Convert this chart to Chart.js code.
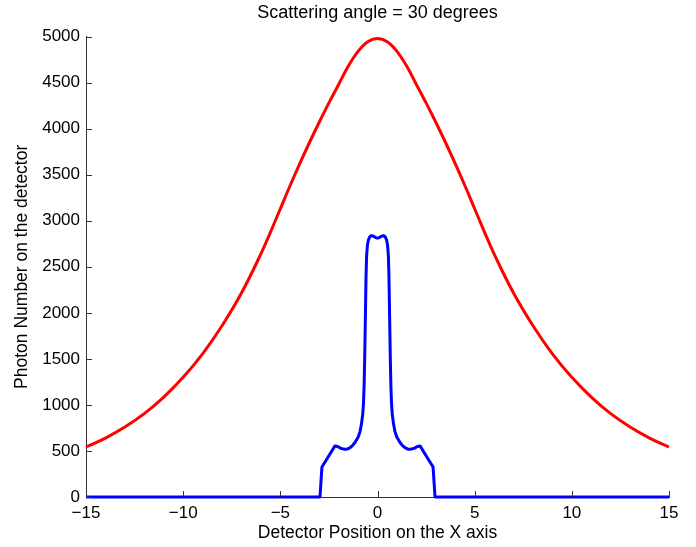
<!DOCTYPE html>
<html lang="en">
<head>
  <meta charset="UTF-8">
  <title>Scattering angle = 30 degrees</title>
  <script src="https://cdn.jsdelivr.net/npm/chart.js"></script>
  <style>
    html, body {
      margin: 0;
      padding: 0;
      background: #fff;
    }
    #chart-container {
      width: 696px;
      height: 547px;
      position: relative;
    }
  </style>
</head>
<body>
<div id="chart-container">
  <canvas id="chart"></canvas>
</div>

<script>
// red curve (wide)
const redX = [-15, -14, -13, -12, -11, -10, -9, -8, -7, -6, -5.5, -5, -4.5, -4, -3.5, -3, -2.5, -2, -1.5, -1, -0.5, 0,
  0.5, 1, 1.5, 2, 2.5, 3, 3.5, 4, 4.5, 5, 5.5, 6, 7, 8, 9, 10, 11, 12, 13, 14, 15];
const redY = [543, 640, 760, 905, 1085, 1300, 1555, 1860, 2215, 2640, 2880, 3130, 3380, 3620, 3850, 4070, 4280, 4480, 4680, 4840, 4945, 4980,
  4945, 4840, 4680, 4480, 4280, 4070, 3850, 3620, 3380, 3130, 2880, 2640, 2215, 1860, 1555, 1300, 1085, 905, 760, 640, 543];

// blue curve (narrow peak)
const blueX = [-15, -2.96, -2.86, -2.19, -2.05, -1.9, -1.75, -1.6, -1.45, -1.3, -1.15, -1.0, -0.9, -0.82, -0.76, -0.72,
  -0.69, -0.66, -0.62, -0.59, -0.56, -0.52, -0.47, -0.4, -0.33, -0.25, -0.15, -0.07, 0,
  0.07, 0.15, 0.25, 0.33, 0.4, 0.47, 0.52, 0.56, 0.59, 0.62, 0.66, 0.69,
  0.72, 0.76, 0.82, 0.9, 1.0, 1.15, 1.3, 1.45, 1.6, 1.75, 1.9, 2.05, 2.19, 2.86, 2.96, 15];
const blueY = [0, 0, 325, 555, 548, 530, 520, 518, 530, 555, 595, 650, 710, 800, 900, 1020,
  1200, 1500, 2000, 2400, 2620, 2730, 2790, 2825, 2838, 2835, 2825, 2815, 2812,
  2815, 2825, 2835, 2838, 2825, 2790, 2730, 2620, 2400, 2000, 1500, 1200,
  1020, 900, 800, 710, 650, 595, 555, 530, 518, 520, 530, 548, 555, 325, 0, 0];

const xTicks = [-15, -10, -5, 0, 5, 10, 15];
const yTicks = [0, 500, 1000, 1500, 2000, 2500, 3000, 3500, 4000, 4500, 5000];

const fontFamily = "'Liberation Sans', Arial, Helvetica, sans-serif";
const textColor = '#000';
const axisColor = '#333';

// matlab style ticks pointing into the plot
const inwardTicks = {
  id: 'inwardTicks',
  afterDraw(chart) {
    const { ctx, chartArea, scales } = chart;
    ctx.save();
    ctx.strokeStyle = axisColor;
    ctx.lineWidth = 1;
    ctx.beginPath();
    xTicks.forEach(v => {
      const px = Math.round(scales.x.getPixelForValue(v)) + 0.5;
      ctx.moveTo(px, chartArea.bottom);
      ctx.lineTo(px, chartArea.bottom - 6);
    });
    yTicks.forEach(v => {
      const py = Math.round(scales.y.getPixelForValue(v)) + 0.5;
      ctx.moveTo(chartArea.left, py);
      ctx.lineTo(chartArea.left + 6, py);
    });
    ctx.stroke();
    ctx.restore();
  }
};

const ctx = document.getElementById('chart').getContext('2d');
const chart = new Chart(ctx, {
  type: 'line',
  data: {
    datasets: [
      {
        label: 'wide',
        data: redX.map((x, i) => ({ x, y: redY[i] })),
        borderColor: '#ff0000',
        borderWidth: 3,
        pointRadius: 0,
        tension: 0.4,
        clip: false
      },
      {
        label: 'narrow',
        data: blueX.map((x, i) => ({ x, y: blueY[i] })),
        borderColor: '#0000ff',
        borderWidth: 3,
        pointRadius: 0,
        // tiny tension: avoids the fast path that merges points in one pixel column
        tension: 0.0001,
        borderJoinStyle: 'round',
        clip: false
      }
    ]
  },
  options: {
    responsive: true,
    maintainAspectRatio: false,
    animation: false,
    layout: { padding: { left: 0, right: 27, top: 0, bottom: 0 } },
    plugins: {
      legend: { display: false },
      tooltip: { enabled: false },
      title: {
        display: true,
        text: 'Scattering angle = 30 degrees',
        fullSize: false,
        color: textColor,
        font: { family: fontFamily, size: 18, weight: 'normal' },
        padding: { top: 2, bottom: 13 }
      }
    },
    scales: {
      x: {
        type: 'linear',
        min: -15,
        max: 15,
        afterBuildTicks: scale => { scale.ticks = xTicks.map(v => ({ value: v })); },
        afterFit: scale => { scale.height = 50; },
        ticks: {
          color: textColor,
          padding: 6,
          font: { family: fontFamily, size: 17 },
          callback: v => (v < 0 ? '\u2212' + Math.abs(v) : String(v))
        },
        grid: { drawOnChartArea: false, drawTicks: false },
        border: { color: axisColor, width: 1 },
        title: {
          display: true,
          text: 'Detector Position on the X axis',
          color: textColor,
          font: { family: fontFamily, size: 17.5 },
          padding: { top: 0, bottom: 3 }
        }
      },
      y: {
        min: 0,
        max: 5000,
        afterBuildTicks: scale => { scale.ticks = yTicks.map(v => ({ value: v })); },
        afterFit: scale => { scale.width = 86; },
        ticks: {
          color: textColor,
          padding: 6,
          font: { family: fontFamily, size: 17 },
          callback: v => String(v)
        },
        grid: { drawOnChartArea: false, drawTicks: false },
        border: { color: axisColor, width: 1 },
        title: {
          display: true,
          text: 'Photon Number on the detector',
          color: textColor,
          font: { family: fontFamily, size: 17.5 },
          padding: { top: 12, bottom: 0 }
        }
      }
    }
  },
  plugins: [inwardTicks]
});
</script>
</body>
</html>
